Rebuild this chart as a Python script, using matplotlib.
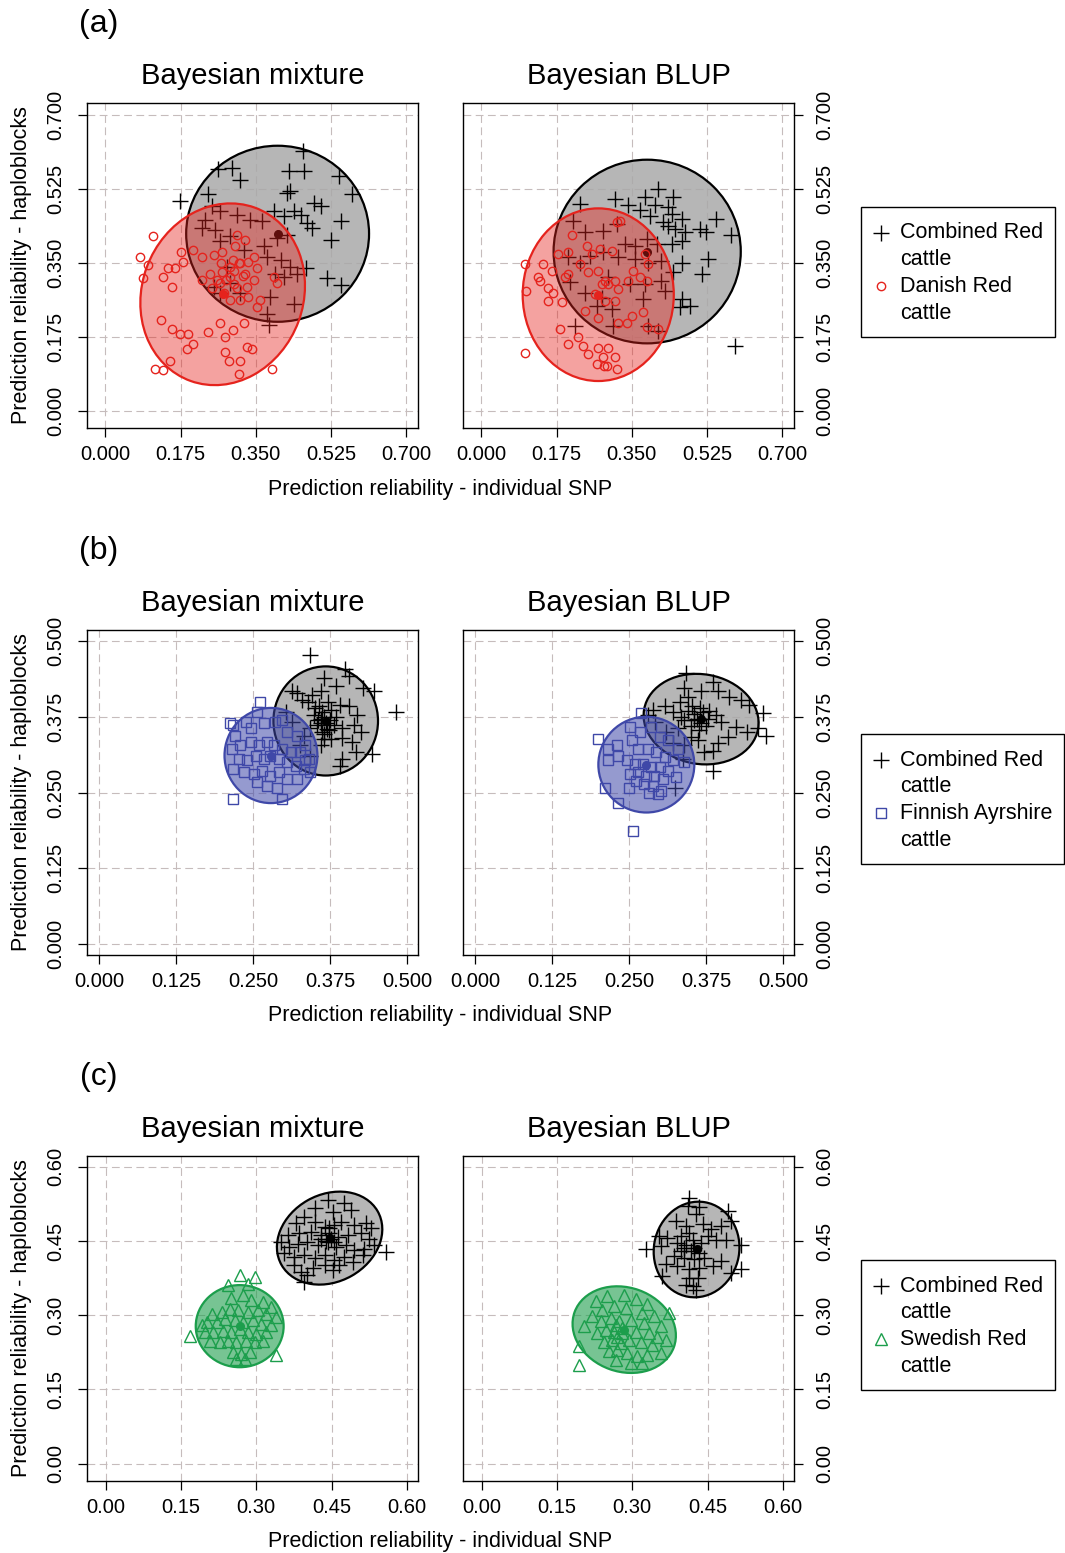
import matplotlib
matplotlib.use("Agg")
import matplotlib.pyplot as plt
from matplotlib.patches import Ellipse, Rectangle
from matplotlib.lines import Line2D

plt.rcParams['font.family'] = ['Liberation Sans', 'DejaVu Sans']

W, H = 1065, 1553

# ---------------- data ----------------
# (a) Bayesian mixture
a_mix_comb_x = [0.459,0.263,0.294,0.314,0.427,0.462,0.430,0.423,0.544,0.575,0.173,0.240,0.248,0.267,0.306,0.232,0.224,0.255,0.291,0.267,
                0.337,0.365,0.392,0.415,0.439,0.455,0.486,0.501,0.470,0.482,0.525,0.548,0.423,0.400,0.369,0.322,0.376,0.408,0.431,0.447,
                0.466,0.416,0.283,0.291,0.252,0.314,0.384,0.376,0.439,0.517,0.548,0.380,0.396,0.267]
a_mix_comb_y = [0.614,0.571,0.575,0.547,0.567,0.567,0.520,0.515,0.555,0.512,0.496,0.512,0.484,0.472,0.464,0.452,0.432,0.428,0.413,0.401,
                0.452,0.448,0.472,0.460,0.472,0.464,0.492,0.484,0.444,0.432,0.405,0.448,0.417,0.409,0.389,0.381,0.365,0.357,0.341,0.325,
                0.337,0.318,0.341,0.302,0.294,0.278,0.270,0.230,0.254,0.314,0.298,0.203,0.325,0.278]
a_mix_oth_x = [0.111,0.080,0.099,0.088,0.134,0.146,0.161,0.181,0.177,0.154,0.205,0.224,0.252,0.271,0.306,0.302,0.326,0.298,0.314,0.333,
               0.345,0.353,0.326,0.291,0.271,0.244,0.224,0.248,0.267,0.306,0.330,0.345,0.314,0.333,0.353,0.361,0.291,0.275,0.392,0.400,
               0.130,0.154,0.173,0.193,0.240,0.267,0.298,0.322,0.279,0.205,0.189,0.279,0.287,0.314,0.330,0.341,0.150,0.115,0.134,0.310,
               0.388,0.290,0.300,0.280,0.310,0.320,0.270,0.260,0.300]
a_mix_oth_y = [0.413,0.365,0.345,0.314,0.318,0.337,0.337,0.353,0.377,0.294,0.381,0.365,0.369,0.377,0.417,0.389,0.405,0.357,0.349,0.353,
               0.365,0.337,0.325,0.318,0.329,0.325,0.310,0.290,0.302,0.290,0.294,0.310,0.262,0.270,0.246,0.262,0.262,0.278,0.318,0.302,
               0.215,0.195,0.183,0.183,0.187,0.207,0.191,0.207,0.175,0.159,0.147,0.139,0.119,0.119,0.151,0.147,0.119,0.100,0.096,0.088,
               0.100,0.340,0.330,0.310,0.350,0.320,0.350,0.310,0.300]
# (a) Bayesian BLUP
a_blup_comb_x = [0.412,0.381,0.311,0.342,0.369,0.392,0.404,0.435,0.447,0.443,0.466,0.423,0.435,0.450,0.474,0.509,0.524,0.547,0.582,0.229,
                 0.214,0.241,0.284,0.315,0.334,0.357,0.385,0.408,0.443,0.466,0.202,0.229,0.253,0.284,0.319,0.357,0.388,0.419,0.466,0.528,
                 0.513,0.447,0.419,0.427,0.381,0.346,0.295,0.206,0.241,0.280,0.268,0.303,0.377,0.466,0.485,0.462,0.218,0.307,0.388,0.412,
                 0.590]
a_blup_comb_y = [0.525,0.505,0.501,0.486,0.474,0.462,0.486,0.482,0.505,0.466,0.454,0.446,0.438,0.430,0.422,0.430,0.422,0.454,0.415,0.489,
                 0.450,0.422,0.426,0.442,0.395,0.391,0.407,0.395,0.395,0.403,0.363,0.351,0.367,0.375,0.363,0.359,0.351,0.355,0.351,0.359,
                 0.324,0.328,0.308,0.284,0.300,0.300,0.316,0.304,0.280,0.268,0.249,0.241,0.265,0.265,0.249,0.245,0.202,0.202,0.202,0.190,
                 0.154]
a_blup_oth_x = [0.101,0.144,0.164,0.132,0.136,0.104,0.155,0.167,0.155,0.187,0.179,0.202,0.210,0.245,0.257,0.276,0.303,0.315,0.322,0.229,
                0.202,0.194,0.249,0.272,0.288,0.280,0.295,0.311,0.319,0.342,0.353,0.369,0.385,0.388,0.381,0.264,0.288,0.311,0.241,0.272,
                0.319,0.338,0.350,0.377,0.183,0.202,0.226,0.237,0.249,0.272,0.295,0.284,0.311,0.268,0.292,0.101,0.385,0.412,0.316,0.285]
a_blup_oth_y = [0.347,0.347,0.332,0.316,0.308,0.284,0.292,0.280,0.261,0.257,0.371,0.375,0.415,0.391,0.371,0.383,0.379,0.446,0.450,0.347,
                0.324,0.316,0.328,0.332,0.308,0.300,0.300,0.308,0.288,0.308,0.332,0.316,0.308,0.347,0.371,0.276,0.261,0.261,0.237,0.221,
                0.209,0.209,0.225,0.233,0.194,0.158,0.174,0.154,0.134,0.150,0.150,0.127,0.127,0.111,0.107,0.138,0.198,0.194,0.099,0.107]
# (b) Bayesian mixture
b_mix_comb_x = [0.343,0.482,0.365,0.400,0.406,0.384,0.428,0.447,0.322,0.314,0.330,0.346,0.360,0.371,0.357,0.362,0.376,0.392,0.406,0.419,
                0.349,0.360,0.368,0.354,0.343,0.381,0.395,0.414,0.425,0.333,0.365,0.376,0.411,0.418,0.444,0.395,0.392,0.360,0.303,0.314,
                0.327,0.343,0.365,0.373,0.360,0.365,0.370,0.355,0.375,0.362,0.350,0.385,0.340,0.395]
b_mix_comb_y = [0.476,0.383,0.439,0.453,0.442,0.425,0.422,0.417,0.414,0.417,0.403,0.411,0.417,0.400,0.392,0.383,0.386,0.394,0.392,0.378,
                0.378,0.372,0.364,0.361,0.356,0.361,0.356,0.361,0.350,0.344,0.347,0.339,0.333,0.317,0.314,0.306,0.294,0.328,0.383,0.367,
                0.328,0.311,0.339,0.353,0.365,0.375,0.355,0.370,0.370,0.350,0.390,0.375,0.400,0.340]
b_mix_oth_x = [0.261,0.257,0.218,0.213,0.238,0.246,0.267,0.286,0.297,0.305,0.322,0.335,0.221,0.216,0.229,0.246,0.259,0.273,0.284,0.297,
               0.311,0.327,0.341,0.227,0.240,0.254,0.267,0.278,0.292,0.305,0.319,0.333,0.218,0.235,0.251,0.265,0.278,0.292,0.305,0.322,
               0.257,0.273,0.289,0.297,0.218,0.335,0.343]
b_mix_oth_y = [0.400,0.383,0.361,0.364,0.367,0.356,0.364,0.367,0.369,0.350,0.344,0.328,0.344,0.322,0.328,0.333,0.328,0.333,0.328,0.322,
               0.317,0.317,0.306,0.306,0.303,0.311,0.306,0.311,0.306,0.300,0.294,0.289,0.289,0.283,0.280,0.286,0.278,0.283,0.272,0.272,
               0.267,0.261,0.258,0.239,0.240,0.303,0.283]
# (b) Bayesian BLUP
b_blup_comb_x = [0.343,0.340,0.345,0.367,0.386,0.394,0.413,0.432,0.445,0.467,0.472,0.459,0.442,0.424,0.410,0.394,0.386,0.386,0.372,0.362,
                 0.351,0.329,0.340,0.356,0.367,0.378,0.391,0.399,0.370,0.353,0.332,0.321,0.308,0.289,0.281,0.292,0.310,0.321,0.340,0.364,
                 0.337,0.324,0.355,0.360,0.345,0.375,0.350,0.365,0.380,0.335]
b_blup_comb_y = [0.447,0.422,0.408,0.417,0.433,0.417,0.408,0.403,0.394,0.381,0.344,0.356,0.350,0.358,0.342,0.331,0.319,0.286,0.317,0.336,
                 0.342,0.356,0.369,0.369,0.364,0.372,0.378,0.367,0.383,0.392,0.400,0.383,0.392,0.386,0.378,0.367,0.350,0.331,0.328,0.353,
                 0.306,0.258,0.380,0.372,0.385,0.360,0.360,0.390,0.385,0.375]
b_blup_oth_x = [0.200,0.216,0.230,0.216,0.232,0.211,0.232,0.256,0.270,0.251,0.267,0.286,0.300,0.313,0.329,0.340,0.254,0.265,0.281,0.294,
                0.308,0.321,0.246,0.259,0.273,0.286,0.300,0.313,0.251,0.265,0.278,0.291,0.305,0.262,0.275,0.289,0.302,0.249,0.283,0.297,
                0.326]
b_blup_oth_y = [0.339,0.322,0.328,0.303,0.311,0.258,0.233,0.186,0.381,0.358,0.350,0.358,0.342,0.336,0.322,0.300,0.336,0.322,0.322,0.317,
                0.308,0.303,0.303,0.297,0.297,0.292,0.292,0.286,0.281,0.283,0.278,0.278,0.272,0.269,0.264,0.261,0.253,0.258,0.250,0.247,
                0.275]
# (c) Bayesian mixture
c_mix_comb_x = [0.442,0.475,0.416,0.452,0.488,0.396,0.379,0.416,0.436,0.455,0.469,0.495,0.518,0.528,0.508,0.525,0.363,0.386,0.409,0.429,
                0.445,0.462,0.482,0.350,0.366,0.383,0.402,0.422,0.442,0.459,0.478,0.495,0.515,0.535,0.558,0.356,0.376,0.396,0.416,0.436,
                0.455,0.475,0.492,0.512,0.376,0.389,0.412,0.436,0.452,0.465,0.396,0.402,0.445,0.449,0.439,0.429,0.455]
c_mix_comb_y = [0.533,0.526,0.516,0.509,0.513,0.499,0.486,0.489,0.479,0.482,0.489,0.482,0.486,0.476,0.466,0.455,0.462,0.466,0.469,0.462,
                0.466,0.459,0.462,0.449,0.439,0.445,0.449,0.442,0.449,0.439,0.442,0.432,0.435,0.442,0.428,0.425,0.418,0.422,0.415,0.422,
                0.411,0.418,0.408,0.422,0.401,0.388,0.395,0.401,0.391,0.401,0.368,0.381,0.476,0.455,0.451,0.455,0.449]
c_mix_oth_x = [0.267,0.297,0.284,0.244,0.168,0.340,0.250,0.274,0.290,0.313,0.330,0.340,0.211,0.231,0.247,0.264,0.283,0.303,0.320,0.201,
               0.221,0.237,0.257,0.274,0.293,0.310,0.330,0.198,0.214,0.234,0.250,0.267,0.284,0.300,0.320,0.207,0.227,0.244,0.260,0.280,
               0.297,0.313,0.254,0.270,0.287,0.260,0.277,0.191]
c_mix_oth_y = [0.381,0.378,0.364,0.361,0.259,0.219,0.334,0.340,0.330,0.327,0.317,0.297,0.303,0.307,0.313,0.310,0.307,0.310,0.303,0.286,
               0.286,0.293,0.290,0.286,0.290,0.283,0.280,0.266,0.266,0.269,0.266,0.273,0.266,0.263,0.266,0.249,0.246,0.249,0.246,0.249,
               0.246,0.249,0.226,0.222,0.226,0.212,0.212,0.280]
# (c) Bayesian BLUP
c_blup_comb_x = [0.413,0.410,0.433,0.426,0.490,0.387,0.407,0.440,0.457,0.477,0.497,0.327,0.353,0.370,0.357,0.390,0.407,0.420,0.437,0.450,
                 0.467,0.487,0.517,0.517,0.477,0.497,0.460,0.397,0.417,0.433,0.383,0.403,0.423,0.443,0.367,0.390,0.413,0.433,0.360,0.413,
                 0.430,0.420,0.407,0.427,0.397,0.413,0.403,0.423]
c_blup_comb_y = [0.538,0.521,0.518,0.504,0.511,0.491,0.480,0.484,0.474,0.480,0.491,0.433,0.460,0.457,0.440,0.447,0.443,0.453,0.447,0.460,
                 0.453,0.453,0.443,0.393,0.409,0.386,0.399,0.430,0.430,0.426,0.420,0.416,0.413,0.416,0.403,0.399,0.393,0.396,0.379,0.376,
                 0.376,0.359,0.362,0.352,0.460,0.467,0.436,0.436]
c_blup_oth_x = [0.193,0.193,0.203,0.373,0.283,0.250,0.227,0.307,0.330,0.240,0.263,0.287,0.320,0.343,0.357,0.220,0.237,0.257,0.273,0.297,
                0.323,0.230,0.247,0.263,0.280,0.307,0.333,0.350,0.367,0.243,0.260,0.277,0.293,0.317,0.340,0.253,0.270,0.290,0.310,0.330,
                0.357,0.267,0.297,0.320,0.270,0.280,0.267]
c_blup_oth_y = [0.200,0.237,0.278,0.305,0.342,0.338,0.328,0.332,0.322,0.311,0.318,0.315,0.305,0.298,0.278,0.298,0.288,0.295,0.288,0.291,
                0.284,0.264,0.271,0.267,0.264,0.267,0.264,0.257,0.250,0.247,0.250,0.244,0.250,0.247,0.240,0.227,0.230,0.224,0.217,0.220,
                0.224,0.210,0.203,0.203,0.257,0.274,0.281]

# ellipses: centre x, centre y, semi-axis along angle, other semi-axis, angle (deg)
ell_a_mix_comb = (0.401, 0.419, 0.213, 0.208, 0)
ell_a_mix_oth = (0.273, 0.276, 0.218, 0.188, 70)
ell_a_blup_comb = (0.386, 0.377, 0.218, 0.217, 0)
ell_a_blup_oth = (0.272, 0.275, 0.176, 0.204, 0)
ell_b_mix_comb = (0.368, 0.368, 0.085, 0.090, 0)
ell_b_mix_oth = (0.279, 0.311, 0.0755, 0.0785, 0)
ell_b_blup_comb = (0.367, 0.371, 0.094, 0.074, -10)
ell_b_blup_oth = (0.278, 0.296, 0.078, 0.079, 0)
ell_c_mix_comb = (0.446, 0.456, 0.110, 0.088, 30)
ell_c_mix_oth = (0.267, 0.278, 0.0875, 0.083, 0)
ell_c_blup_comb = (0.428, 0.433, 0.097, 0.085, 80)
ell_c_blup_oth = (0.284, 0.271, 0.105, 0.085, -20)

ticks_a = [0.0, 0.175, 0.35, 0.525, 0.7]
ticklabels_a = ["0.000", "0.175", "0.350", "0.525", "0.700"]
ticks_b = [0.0, 0.125, 0.25, 0.375, 0.5]
ticklabels_b = ["0.000", "0.125", "0.250", "0.375", "0.500"]
ticks_c = [0.0, 0.15, 0.30, 0.45, 0.60]
ticklabels_c = ["0.00", "0.15", "0.30", "0.45", "0.60"]

titles = ["Bayesian mixture", "Bayesian BLUP"]
panel_labels = ["(a)", "(b)", "(c)"]
legend_other = ["Danish Red", "Finnish Ayrshire", "Swedish Red"]

# ---------------- styling ----------------
RED = '#e5231d'
BLUE = '#3f48a8'
GREEN = '#1c9e4c'
other_style = [dict(color=RED, marker='o', ms=6.0, alpha=0.42),
               dict(color=BLUE, marker='s', ms=7.0, alpha=0.55),
               dict(color=GREEN, marker='^', ms=8.0, alpha=0.6)]

fig = plt.figure(figsize=(W/100, H/100), dpi=100)

def fx(x):
    return x / W

def fy(y):
    return 1 - y / H

rows = [
    dict(top=103, xlim=(-0.043, 0.728), ylim=(-0.040, 0.728), ticks=ticks_a, tl=ticklabels_a,
         data=[(a_mix_comb_x, a_mix_comb_y, a_mix_oth_x, a_mix_oth_y, ell_a_mix_comb, ell_a_mix_oth),
               (a_blup_comb_x, a_blup_comb_y, a_blup_oth_x, a_blup_oth_y, ell_a_blup_comb, ell_a_blup_oth)]),
    dict(top=630, xlim=(-0.020, 0.518), ylim=(-0.018, 0.518), ticks=ticks_b, tl=ticklabels_b,
         data=[(b_mix_comb_x, b_mix_comb_y, b_mix_oth_x, b_mix_oth_y, ell_b_mix_comb, ell_b_mix_oth),
               (b_blup_comb_x, b_blup_comb_y, b_blup_oth_x, b_blup_oth_y, ell_b_blup_comb, ell_b_blup_oth)]),
    dict(top=1156, xlim=(-0.037, 0.622), ylim=(-0.035, 0.622), ticks=ticks_c, tl=ticklabels_c,
         data=[(c_mix_comb_x, c_mix_comb_y, c_mix_oth_x, c_mix_oth_y, ell_c_mix_comb, ell_c_mix_oth),
               (c_blup_comb_x, c_blup_comb_y, c_blup_oth_x, c_blup_oth_y, ell_c_blup_comb, ell_c_blup_oth)]),
]
lefts = [87, 463]
AW, AH = 331, 325

def draw_ellipse(ax, e, fc, alpha, ec, z):
    cx, cy, a, b, ang = e
    ax.add_patch(Ellipse((cx, cy), 2*a, 2*b, angle=ang, facecolor=fc, alpha=alpha,
                         edgecolor='none', zorder=z))
    ax.add_patch(Ellipse((cx, cy), 2*a, 2*b, angle=ang, facecolor='none',
                         edgecolor=ec, lw=1.6, zorder=z + 0.1))
    ax.plot([cx], [cy], 'o', color=ec, ms=5.5, zorder=z + 0.2)

for r, row in enumerate(rows):
    st = other_style[r]
    for c in range(2):
        ax = fig.add_axes([fx(lefts[c]), fy(row['top'] + AH), AW / W, AH / H])
        ax.set_xlim(*row['xlim'])
        ax.set_ylim(*row['ylim'])
        ax.set_xticks(row['ticks'])
        ax.set_xticklabels(row['tl'])
        ax.set_yticks(row['ticks'])
        ax.set_yticklabels(row['tl'], rotation=90, va='center')
        ax.grid(True, color='#c6bcbc', lw=0.8, linestyle=(0, (7, 4)), zorder=0)
        ax.set_axisbelow(True)
        for s in ax.spines.values():
            s.set_linewidth(1.0)
        ax.tick_params(direction='out', length=6.5, width=0.9, labelsize=14.5, pad=6)
        if c == 1:
            ax.yaxis.tick_right()
            ax.tick_params(axis='y', direction='out', length=6.5, width=0.9, labelsize=14.5, pad=9)
        else:
            ax.tick_params(axis='y', pad=9)
        cx_, cy_, ox, oy, e_comb, e_oth = row['data'][c]
        draw_ellipse(ax, e_comb, '#a9a9a9', 0.85, 'black', 2)
        ax.plot(cx_, cy_, linestyle='none', marker='+', ms=11, mew=1.0, color='black', zorder=3)
        draw_ellipse(ax, e_oth, st['color'], st['alpha'], st['color'], 4)
        ax.plot(ox, oy, linestyle='none', marker=st['marker'], ms=st['ms'], mew=1.0,
                mfc='none', mec=st['color'], zorder=5)
        fig.text(fx(lefts[c] + AW / 2), fy(row['top'] - 19), titles[c], fontsize=21,
                 ha='center', va='baseline')
    # panel label
    fig.text(fx(99), fy(row['top'] - 71), panel_labels[r], fontsize=23, ha='center', va='baseline')
    # axis labels
    fig.text(fx(22), fy(row['top'] + AH / 2), "Prediction reliability - haploblocks", fontsize=15.5,
             rotation=90, ha='center', va='center')
    fig.text(fx(440), fy(row['top'] + 386), "Prediction reliability - individual SNP", fontsize=15.5,
             ha='center', va='center')
    # legend
    ltop = row['top'] + 104
    rw = 203 if r == 1 else 194
    fig.add_artist(Rectangle((fx(861), fy(ltop + 130)), rw / W, 130 / H, transform=fig.transFigure,
                             fill=False, edgecolor='black', lw=1.0))
    fig.add_artist(Line2D([fx(881)], [fy(ltop + 26)], marker='+', ms=11, mew=1.0, color='black',
                          linestyle='none', transform=fig.transFigure))
    fig.add_artist(Line2D([fx(881)], [fy(ltop + 79)], marker=st['marker'], ms=st['ms'], mew=1.0,
                          mfc='none', mec=st['color'], linestyle='none', transform=fig.transFigure))
    for i, t in enumerate(["Combined Red", "cattle", legend_other[r], "cattle"]):
        fig.text(fx(900), fy(ltop + 26 + 26.8 * i), t, fontsize=15.5, ha='left', va='center')

fig.savefig("out.png", dpi=100)
